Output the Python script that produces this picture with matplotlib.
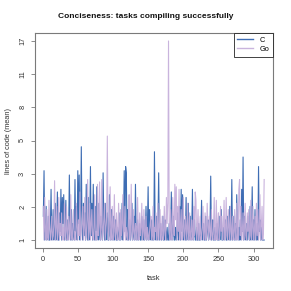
import numpy as np
import matplotlib
matplotlib.use("Agg")
import matplotlib.pyplot as plt

plt.rcParams['font.family'] = ['Liberation Sans', 'DejaVu Sans']

title = "Conciseness: tasks compiling successfully"
x_label = "task"
y_label = "lines of code (mean)"
series_names = ["C", "Go"]
x_ticks = [0, 50, 100, 150, 200, 250, 300]

c_values = [
    1.6, 3.3, 1.0, 1.2, 1.9, 1.0, 1.1, 1.6, 1.0, 1.0, 1.3, 2.5, 1.0, 1.2, 1.8,
    1.0, 1.1, 2.0, 1.0, 1.3, 2.4, 1.0, 1.0, 1.7, 1.2, 2.5, 1.0, 2.2, 1.4, 2.3,
    1.0, 1.2, 2.1, 1.0, 1.5, 1.0, 1.2, 3.1, 1.3, 1.0, 1.8, 1.0, 1.4, 1.1, 1.0,
    2.9, 1.2, 1.9, 1.0, 3.3, 1.4, 3.1, 1.0, 1.6, 4.6, 1.3, 1.0, 2.0, 1.1, 1.7,
    1.0, 2.7, 1.2, 1.0, 2.2, 1.0, 1.4, 3.5, 1.1, 2.0, 1.0, 2.7, 1.2, 1.0, 1.9,
    1.0, 2.6, 1.3, 1.0, 2.0, 1.1, 1.0, 1.6, 1.2, 1.0, 3.2, 1.4, 1.0, 2.0, 1.0,
    1.2, 1.7, 1.0, 1.0, 2.3, 1.1, 1.0, 1.8, 1.3, 1.0, 1.6, 1.0, 1.2, 1.5, 1.0,
    1.0, 1.3, 1.1, 1.0, 1.7, 1.0, 1.2, 2.0, 1.0, 1.4, 3.3, 1.2, 3.5, 3.2, 1.0,
    1.8, 1.0, 1.1, 1.5, 1.0, 1.2, 2.0, 1.0, 1.1, 1.6, 1.0, 2.7, 1.2, 1.0, 1.5,
    1.0, 1.1, 1.4, 1.0, 1.0, 1.6, 1.2, 1.0, 1.5, 1.0, 1.1, 1.9, 1.0, 1.3, 2.6,
    1.0, 1.8, 1.2, 1.0, 1.5, 1.0, 1.3, 1.0, 4.3, 1.2, 1.0, 1.6, 1.0, 1.4, 3.2,
    1.0, 1.2, 1.4, 1.0, 1.1, 1.6, 1.0, 1.0, 1.5, 1.2, 1.0, 1.3, 1.0, 1.0, 1.4,
    1.0, 1.2, 2.4, 1.0, 1.1, 1.6, 1.0, 1.0, 1.3, 1.0, 1.2, 1.7, 1.0, 1.1, 1.9,
    1.0, 2.5, 1.2, 2.3, 1.0, 1.1, 1.5, 1.0, 2.2, 1.0, 1.2, 2.0, 1.0, 1.1, 1.6,
    1.0, 1.2, 2.5, 1.0, 1.1, 1.5, 1.0, 1.0, 1.3, 1.0, 1.0, 1.4, 1.0, 1.0, 1.2,
    2.1, 1.0, 1.1, 1.4, 1.0, 1.0, 1.6, 1.0, 1.2, 1.5, 1.0, 1.1, 1.3, 3.05, 1.0,
    1.2, 1.5, 1.0, 1.0, 1.3, 1.0, 1.1, 1.4, 1.0, 1.0, 1.6, 1.0, 1.2, 1.8, 1.0,
    1.0, 1.3, 1.0, 1.1, 1.5, 1.0, 1.0, 1.6, 1.2, 1.0, 1.9, 1.0, 1.3, 2.9, 1.0,
    1.1, 1.6, 1.0, 1.4, 1.0, 2.3, 1.2, 1.0, 1.3, 1.0, 1.5, 1.0, 2.5, 1.2, 4.0,
    1.0, 1.6, 1.1, 1.0, 1.4, 1.0, 1.6, 1.2, 1.0, 1.9, 1.0, 1.3, 2.6, 1.0, 1.5,
    1.0, 1.8, 1.1, 1.0, 1.4, 1.0, 3.5, 1.2, 1.5, 1.0, 1.3, 1.0, 1.0, 1.0, 1.0,
]

go_values = [
    1.9, 1.0, 2.2, 1.2, 1.0, 1.8, 1.1, 1.0, 2.1, 1.3, 1.0, 1.2, 1.6, 1.0, 1.1,
    1.4, 2.85, 1.0, 1.3, 1.9, 1.0, 1.2, 2.2, 1.0, 1.4, 1.1, 1.7, 1.0, 1.3, 1.0,
    2.0, 1.1, 1.0, 1.9, 1.2, 1.0, 1.6, 1.3, 1.0, 2.3, 1.1, 1.0, 1.4, 1.8, 1.0,
    1.2, 1.0, 2.0, 1.3, 1.0, 1.5, 1.1, 2.4, 1.0, 1.2, 1.4, 1.9, 1.0, 1.3, 2.2,
    1.0, 1.1, 1.5, 2.9, 1.0, 1.2, 2.0, 1.0, 1.4, 1.8, 1.1, 1.0, 1.3, 2.3, 1.0,
    1.2, 1.0, 2.7, 1.1, 1.4, 2.8, 1.0, 1.3, 2.9, 1.0, 1.2, 1.5, 2.0, 1.0, 1.3,
    1.6, 5.3, 1.2, 1.0, 1.5, 2.6, 1.0, 1.3, 1.9, 1.0, 1.2, 2.3, 1.1, 1.0, 1.7,
    1.2, 1.0, 2.0, 1.3, 1.0, 1.8, 1.1, 1.4, 2.3, 1.0, 1.2, 1.9, 1.0, 1.3, 1.1,
    1.0, 1.5, 2.3, 1.0, 1.4, 2.7, 1.1, 1.0, 1.8, 1.2, 1.0, 1.4, 1.3, 1.0, 2.2,
    1.2, 1.0, 1.7, 1.1, 1.3, 2.0, 1.0, 1.2, 1.8, 1.0, 1.1, 1.6, 1.0, 1.3, 1.1,
    1.0, 1.2, 1.4, 1.6, 1.0, 1.1, 1.9, 1.0, 1.3, 1.2, 1.7, 1.0, 1.1, 2.0, 1.0,
    1.3, 1.8, 1.0, 1.2, 1.6, 1.0, 1.1, 1.9, 1.2, 1.0, 2.2, 1.4, 2.0, 17.0, 1.3,
    1.0, 1.8, 1.2, 1.0, 2.2, 1.4, 1.1, 2.7, 1.5, 2.6, 1.0, 1.9, 1.2, 2.5, 1.0,
    1.3, 1.8, 1.0, 1.2, 2.2, 1.1, 1.0, 1.6, 1.3, 1.0, 2.0, 1.2, 1.0, 1.7, 1.1,
    1.0, 1.5, 1.2, 1.0, 1.9, 1.1, 2.4, 2.1, 1.0, 1.3, 1.8, 1.0, 1.2, 1.6, 1.0,
    1.1, 1.3, 1.9, 1.0, 1.2, 1.7, 1.0, 1.1, 2.0, 1.3, 1.0, 1.6, 1.2, 1.0, 1.8,
    1.1, 1.0, 1.3, 2.2, 1.0, 1.2, 2.1, 1.0, 1.4, 1.7, 1.0, 1.1, 1.9, 1.2, 1.6,
    1.0, 1.3, 2.1, 1.0, 1.2, 2.2, 1.1, 1.0, 1.8, 1.3, 1.0, 1.9, 1.2, 1.0, 1.6,
    1.1, 1.0, 1.8, 1.2, 1.0, 2.0, 1.3, 1.0, 2.5, 2.9, 1.1, 1.9, 1.0, 1.2, 1.7,
    1.0, 1.3, 2.0, 1.1, 1.0, 1.7, 1.2, 1.8, 1.0, 1.1, 2.1, 1.0, 1.3, 1.9, 1.0,
    1.2, 1.6, 1.0, 2.0, 1.1, 1.8, 1.0, 1.2, 2.3, 1.0, 1.3, 1.9, 1.0, 1.2, 2.9,
]

colors = ["#3E6DB4", "#C4ACDA"]
frame_col = "#7a7a7a"
text_col = "#333333"

tasks_c = np.arange(1, len(c_values) + 1)
tasks_go = np.arange(1, len(go_values) + 1)
yc = np.log1p(np.array(c_values))
yg = np.log1p(np.array(go_values))

fig = plt.figure(figsize=(2.91, 2.91), dpi=100)
ax = fig.add_axes([34.5 / 291, 43 / 291, (273 - 34.5) / 291, (248 - 33) / 291])

ax.plot(tasks_c, yc, color=colors[0], lw=0.8, label=series_names[0])
ax.plot(tasks_go, yg, color=colors[1], lw=0.8, alpha=0.9, label=series_names[1])

# R-style axis range (4% padding)
xmin, xmax = 1, max(len(c_values), len(go_values))
pad = 0.04 * (xmax - xmin)
ax.set_xlim(xmin - pad, xmax + pad)
allv = np.concatenate([yc, yg])
lo, hi = allv.min(), allv.max()
ypad = 0.04 * (hi - lo)
ax.set_ylim(lo - ypad, hi + ypad)

yt = np.linspace(lo, hi, 7)
ax.set_yticks(yt)
ax.set_yticklabels([str(int(round(v))) for v in np.expm1(yt)], rotation=90, va='center')
ax.set_xticks(x_ticks)
ax.set_xticklabels([str(t) for t in x_ticks])

for s in ax.spines.values():
    s.set_color(frame_col)
    s.set_linewidth(0.8)
ax.tick_params(axis='both', direction='out', length=3, width=0.6, color=frame_col,
               labelsize=5.3, labelcolor=text_col)
ax.tick_params(axis='y', pad=3)
ax.tick_params(axis='x', pad=2.5)

ax.set_xlabel(x_label, fontsize=5.3, color=text_col, labelpad=9)
ax.set_ylabel(y_label, fontsize=5.3, color=text_col, labelpad=5)
fig.text(0.5, 1 - 17 / 291, title, ha='center', va='center', fontsize=6.0,
         fontweight='bold', color='#111111')

leg = ax.legend(loc='upper right', fontsize=5.3, frameon=True, fancybox=False,
                borderaxespad=0, edgecolor='#222222', framealpha=1,
                handlelength=2.1, borderpad=0.5, labelspacing=0.25, handletextpad=0.9)
leg.get_frame().set_linewidth(0.6)
for h in leg.get_lines():
    h.set_linewidth(1.0)

fig.savefig("out.png", dpi=100)
